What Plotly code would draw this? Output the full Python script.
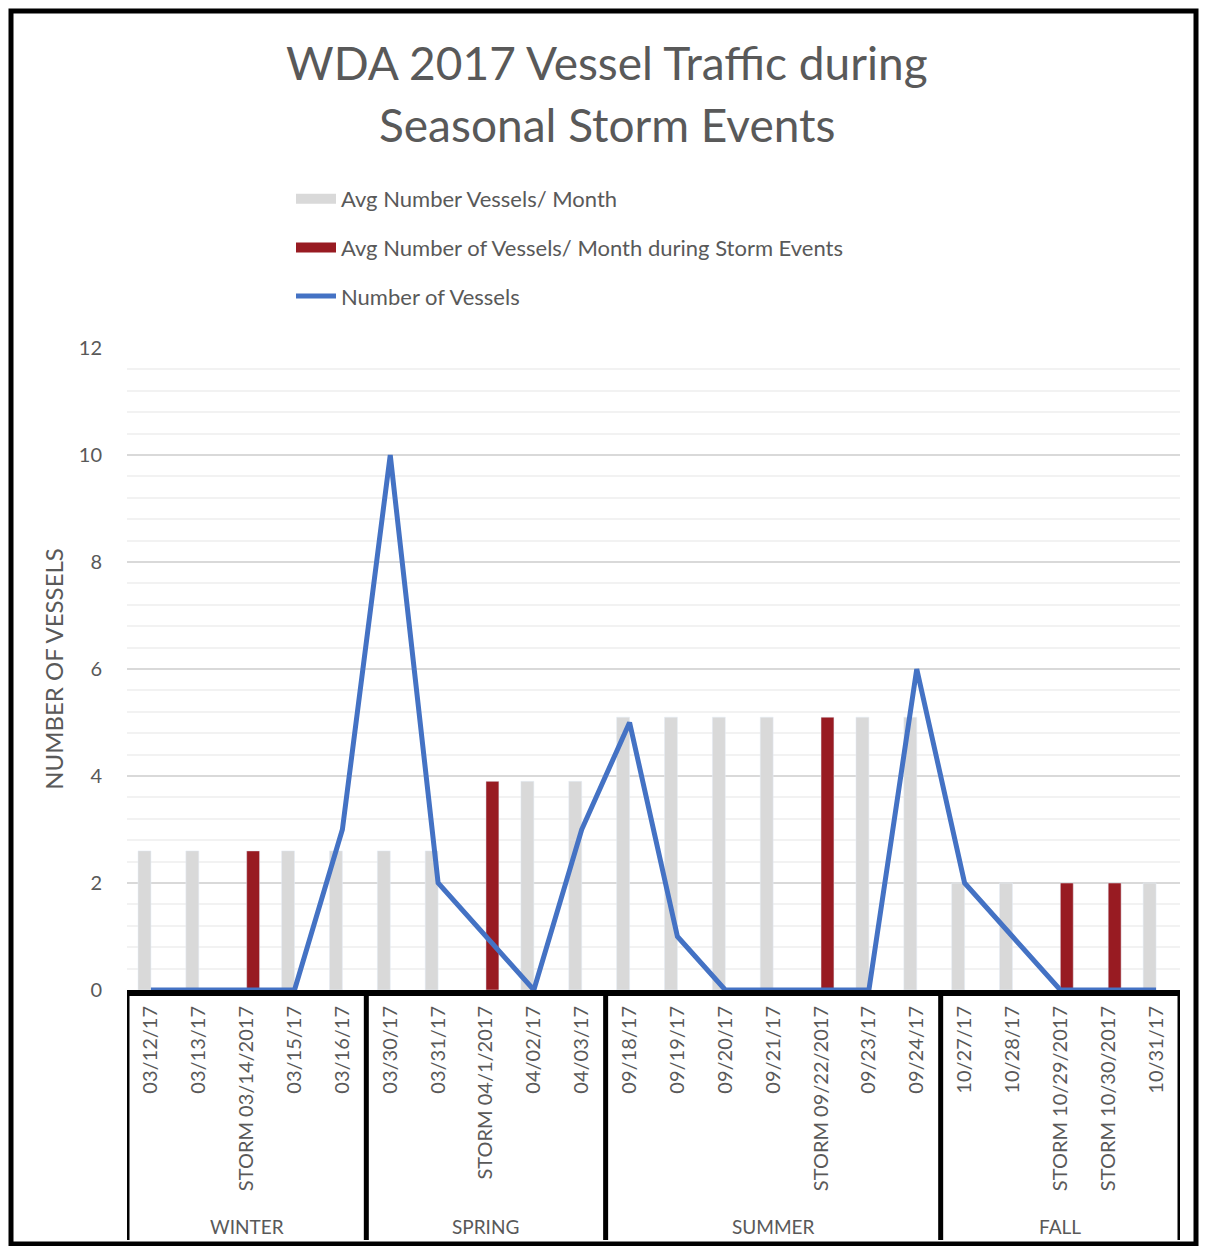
import plotly.graph_objs as go

# categories (inner level) and seasons (outer level)
dates = ['03/12/17', '03/13/17', 'STORM 03/14/2017', '03/15/17', '03/16/17',
         '03/30/17', '03/31/17', 'STORM 04/1/2017', '04/02/17', '04/03/17',
         '09/18/17', '09/19/17', '09/20/17', '09/21/17', 'STORM 09/22/2017', '09/23/17', '09/24/17',
         '10/27/17', '10/28/17', 'STORM 10/29/2017', 'STORM 10/30/2017', '10/31/17']
seasons = ['WINTER', 'SPRING', 'SUMMER', 'FALL']
season_sizes = [5, 5, 7, 5]

avg_month = [2.6, 2.6, None, 2.6, 2.6,
             2.6, 2.6, None, 3.9, 3.9,
             5.1, 5.1, 5.1, 5.1, None, 5.1, 5.1,
             2.0, 2.0, None, None, 2.0]
avg_storm = [None, None, 2.6, None, None,
             None, None, 3.9, None, None,
             None, None, None, None, 5.1, None, None,
             None, None, 2.0, 2.0, None]
n_vessels = [0, 0, 0, 0, 3,
             10, 2, 1, 0, 3,
             5, 1, 0, 0, 0, 0, 6,
             2, 1, 0, 0, 0]

# page body has an 8px margin all round, so keep the figure inside it
OFF = 8
W, H = 1207 - 2 * OFF, 1254 - 2 * OFF
L, T = 127 - OFF, 348 - OFF
R, B = W - (1180 - OFF), H - (990 - OFF)
pw, ph = W - L - R, H - T - B

def px(x):
    return (x - OFF - L) / pw

def py(y):
    return (H - B - (y - OFF)) / ph

FONT = 'Lato, Open Sans, sans-serif'
TXT = '#595959'
GRAY, RED, BLUE = '#D9D9D9', '#981B22', '#4472C4'

fig = go.Figure()
fig.add_trace(go.Bar(x=dates, y=avg_month, name='Avg Number Vessels/ Month',
                     marker_color=GRAY, showlegend=False))
fig.add_trace(go.Bar(x=dates, y=avg_storm, name='Avg Number of Vessels/ Month during Storm Events',
                     marker_color=RED, showlegend=False))
fig.add_trace(go.Scatter(x=dates, y=n_vessels, name='Number of Vessels', mode='lines',
                         line=dict(color=BLUE, width=5), showlegend=False))

# legend entries with wide swatches like the original
for name, col, w, grp in [('Avg Number Vessels/ Month', GRAY, 16, 'a'),
                          ('Avg Number of Vessels/ Month during Storm Events', RED, 16, 'b'),
                          ('Number of Vessels', BLUE, 5, 'c')]:
    fig.add_trace(go.Scatter(x=[None], y=[None], mode='lines', name=name,
                             line=dict(color=col, width=w), legendgroup=grp,
                             hoverinfo='skip'))

# season dividers and labels below the axis
shapes = []
annotations = []
start = 0
edges = [-0.5]
for s, n in zip(seasons, season_sizes):
    annotations.append(dict(x=start + (n - 1) / 2, y=py(1226), xref='x', yref='paper',
                            text=s, showarrow=False, yanchor='middle',
                            font=dict(size=19, color=TXT, family=FONT)))
    start += n
    edges.append(start - 0.5)
for e in edges:
    shapes.append(dict(type='line', xref='x', yref='paper', x0=e, x1=e,
                       y0=py(990), y1=py(1240), line=dict(color='black', width=5)))
# outer frame
shapes.append(dict(type='rect', xref='paper', yref='paper',
                   x0=px(11), x1=px(1196), y0=py(1244), y1=py(11),
                   line=dict(color='black', width=5)))

# two-line title as annotations
for line, yc in [('WDA 2017 Vessel Traffic during', 62), ('Seasonal Storm Events', 125)]:
    annotations.append(dict(x=px(607), y=py(yc), xref='paper', yref='paper',
                            xanchor='center', yanchor='middle', showarrow=False,
                            text=line, font=dict(size=46, color=TXT, family=FONT)))

fig.update_layout(
    width=W, height=H,
    margin=dict(l=L, r=R, t=T, b=B),
    paper_bgcolor='white', plot_bgcolor='white',
    font=dict(family=FONT, color=TXT),
    barmode='group', bargap=0.46, bargroupgap=0,
    legend=dict(x=px(291), y=py(178), xanchor='left', yanchor='top',
                font=dict(size=22, color=TXT, family=FONT),
                tracegroupgap=17, itemwidth=40, traceorder='grouped'),
    shapes=shapes, annotations=annotations,
    showlegend=True,
)
fig.update_xaxes(type='category', tickangle=-90, showgrid=False,
                 showline=True, linecolor='black', linewidth=6,
                 ticks='', ticklabelstandoff=2,
                 tickfont=dict(size=20, color=TXT, family=FONT),
                 range=[-0.5, len(dates) - 0.5])
fig.update_yaxes(range=[0, 12], dtick=2, showgrid=True, gridcolor='#D9D9D9', gridwidth=1.5,
                 minor=dict(dtick=0.4, showgrid=True, gridcolor='#F2F2F2', gridwidth=1.5),
                 zeroline=False, ticks='', ticklabelstandoff=24,
                 tickfont=dict(size=20, color=TXT, family=FONT),
                 title=dict(text='NUMBER OF VESSELS', standoff=8,
                            font=dict(size=24, color=TXT, family=FONT)))

fig.write_html('out.html')
